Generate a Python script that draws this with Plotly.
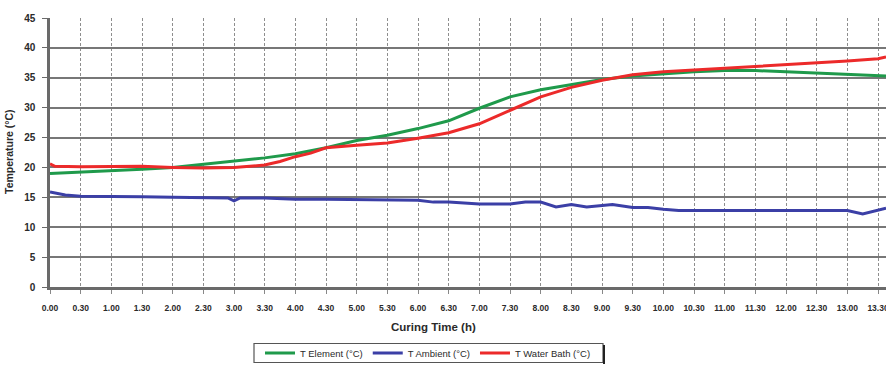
import plotly.graph_objects as go

# Data (curing time in decimal hours)
t_element = [0, 0.5, 1, 1.5, 2, 2.5, 3, 3.5, 4, 4.5, 5, 5.5, 6, 6.5, 7, 7.5, 8, 8.5, 9,
             9.5, 10, 10.5, 11, 11.5, 12, 12.5, 13, 13.5, 13.63]
element = [19.0, 19.2, 19.4, 19.7, 20.0, 20.5, 21.1, 21.6, 22.3, 23.3, 24.5, 25.4, 26.5, 27.8,
           29.9, 31.8, 33.0, 33.9, 34.7, 35.3, 35.7, 36.0, 36.2, 36.2, 36.0, 35.8, 35.5, 35.4, 35.3]

t_bath = [0, 0.08, 0.5, 1, 1.5, 2, 2.5, 3, 3.5, 3.75, 4, 4.25, 4.5, 5, 5.5, 6, 6.5, 7, 7.5, 8,
          8.5, 9, 9.5, 10, 10.5, 11, 11.5, 12, 12.5, 13, 13.5, 13.63]
bath = [20.6, 20.2, 20.1, 20.2, 20.2, 20.0, 19.9, 20.0, 20.4, 21.0, 21.8, 22.4, 23.3, 23.7,
        24.1, 24.9, 25.8, 27.3, 29.6, 31.8, 33.4, 34.6, 35.5, 36.0, 36.3, 36.6, 36.8, 37.1,
        37.5, 37.8, 38.2, 38.5]

t_ambient = [0, 0.25, 0.5, 1, 1.5, 2, 2.5, 2.9, 3.0, 3.1, 3.5, 4, 4.5, 5, 5.5, 6, 6.25, 6.5,
             7, 7.5, 7.75, 8, 8.25, 8.5, 8.75, 9, 9.17, 9.5, 9.75, 10, 10.25, 10.5, 11, 12,
             13, 13.25, 13.5, 13.63]
ambient = [15.9, 15.4, 15.2, 15.2, 15.1, 15.0, 14.9, 14.9, 14.4, 14.9, 14.9, 14.7, 14.7, 14.6,
           14.5, 14.5, 14.2, 14.2, 13.9, 13.9, 14.2, 14.2, 13.4, 13.8, 13.4, 13.6, 13.8, 13.3,
           13.3, 13.0, 12.8, 12.8, 12.8, 12.8, 12.8, 12.2, 12.9, 13.2]

x_tickvals = [i * 0.5 for i in range(28)]
x_ticklabels = ["0.00", "0.30", "1.00", "1.30", "2.00", "2.30", "3.00", "3.30", "4.00", "4.30",
                "5.00", "5.30", "6.00", "6.30", "7.00", "7.30", "8.00", "8.30", "9.00", "9.30",
                "10.00", "10.30", "11.00", "11.30", "12.00", "12.30", "13.00", "13.30"]
y_tickvals = [0, 5, 10, 15, 20, 25, 30, 35, 40, 45]

GREEN = "#1f9a4b"
BLUE = "#3b3fa6"
RED = "#ec2a2a"
TXT = "#2a2a2a"

W, H = 886, 365
# plot area in page pixels: left 50, right 886, top 18, bottom 287
L, R, T, B = 50, 886, 18, 287
plot_w, plot_h = R - L, B - T


def px(xp):
    return (xp - L) / plot_w


def py(yp):
    return (B - yp) / plot_h


fig = go.Figure()
fig.add_trace(go.Scatter(x=t_element, y=element, mode="lines", name="T Element (°C)",
                         line=dict(color=GREEN, width=3)))
fig.add_trace(go.Scatter(x=t_ambient, y=ambient, mode="lines", name="T Ambient (°C)",
                         line=dict(color=BLUE, width=3)))
fig.add_trace(go.Scatter(x=t_bath, y=bath, mode="lines", name="T Water Bath (°C)",
                         line=dict(color=RED, width=3)))

fig.update_layout(
    width=W, height=H,
    margin=dict(l=L, r=W - R, t=T, b=H - B, autoexpand=False),
    paper_bgcolor="white", plot_bgcolor="white",
    font=dict(family="Liberation Sans, Arial, sans-serif", color=TXT),
    showlegend=True,
    legend=dict(orientation="h", x=428 / W, xref="container", xanchor="center",
                y=(H - 353) / H, yref="container", yanchor="middle",
                borderwidth=0, bgcolor="rgba(0,0,0,0)",
                font=dict(size=9.5, color=TXT), itemwidth=30, tracegroupgap=0),
    xaxis=dict(range=[0, 13.63], tickmode="array", tickvals=x_tickvals, ticktext=x_ticklabels,
               tickfont=dict(size=8.5, family="Liberation Sans, Arial", color=TXT, weight="bold"),
               showgrid=True, gridcolor="#8e8e8e", gridwidth=1, griddash="3px,2px",
               showline=True, linecolor="#6a6a6a", linewidth=2.5,
               ticks="outside", ticklen=4, tickcolor="#888", ticklabelstandoff=7,
               ticklabeloverflow="allow",
               zeroline=False, fixedrange=True),
    yaxis=dict(range=[0, 45], tickmode="array", tickvals=y_tickvals,
               tickfont=dict(size=10, family="Liberation Sans, Arial", color=TXT, weight="bold"),
               showgrid=True, gridcolor="#777777", gridwidth=1.8,
               showline=True, linecolor="#6a6a6a", linewidth=2.5,
               ticks="outside", ticklen=5, tickcolor="#6a6a6a", ticklabelstandoff=5,
               zeroline=False, fixedrange=True),
)
# legend frame (decoration) with a dark shadow edge on the right
fig.add_shape(type="rect", xref="paper", yref="paper", x0=px(254), x1=px(603),
              y0=py(362.5), y1=py(343.5), line=dict(color="#555", width=1.2), layer="below")
fig.add_shape(type="line", xref="paper", yref="paper", x0=px(604), x1=px(604),
              y0=py(364), y1=py(345), line=dict(color="#222", width=2))
fig.add_annotation(text="<b>Curing Time (h)</b>", x=px(433), y=py(327), xref="paper",
                   yref="paper", xanchor="center", yanchor="middle", showarrow=False,
                   font=dict(size=11.5, color=TXT))
fig.add_annotation(text="<b>Temperature (°C)</b>", x=px(9), y=py(152),
                   xref="paper", yref="paper", xanchor="center", yanchor="middle",
                   textangle=-90, showarrow=False, font=dict(size=10.5, color=TXT))

fig.write_html("out.html", config={"displayModeBar": False},
               post_script="document.body.style.margin='0';document.body.style.overflow='hidden';")
